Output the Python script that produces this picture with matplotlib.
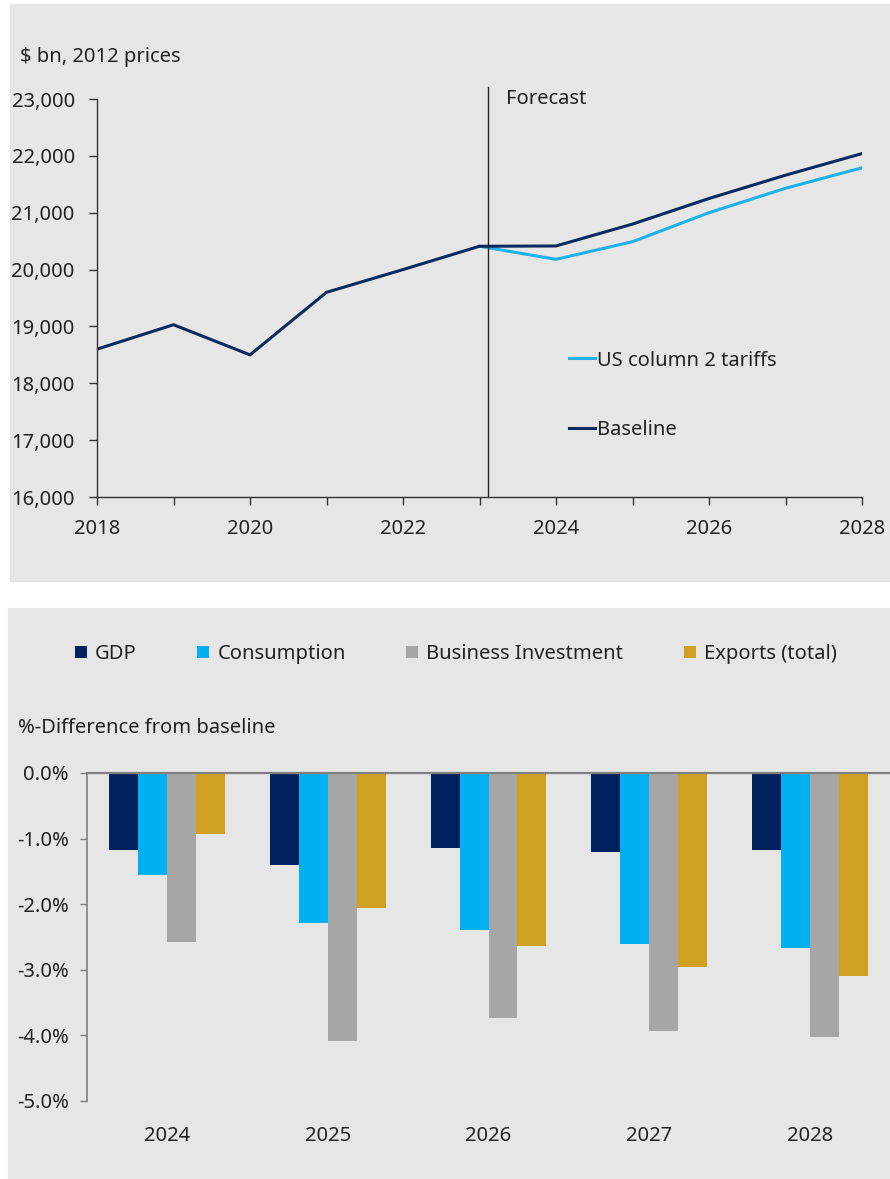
import numpy as np
import matplotlib.pyplot as plt
from matplotlib.patches import Rectangle, Patch
from matplotlib.ticker import FuncFormatter, MultipleLocator

plt.rcParams['font.family'] = ['Noto Sans', 'DejaVu Sans']
plt.rcParams['text.color'] = '#222222'

# Real GDP level, $ bn (2012 prices)
years = [2018, 2019, 2020, 2021, 2022, 2023, 2024, 2025, 2026, 2027, 2028]
baseline = [18600, 19030, 18500, 19600, 20000, 20410, 20415, 20800, 21250, 21660, 22040]
fc_years = [2023, 2024, 2025, 2026, 2027, 2028]
tariffs = [20410, 20180, 20490, 21000, 21430, 21790]
forecast_start = 2023.11

# Percentage difference from baseline
bar_years = ['2024', '2025', '2026', '2027', '2028']
gdp = [-1.18, -1.41, -1.15, -1.21, -1.17]
consumption = [-1.56, -2.29, -2.40, -2.61, -2.67]
business_inv = [-2.58, -4.09, -3.73, -3.94, -4.03]
exports = [-0.93, -2.06, -2.63, -2.95, -3.10]

bg = '#e6e6e6'
navy = '#0d2a5e'
sky = '#1fb1ec'
W, H = 890, 1179
fs = 14.5

fig = plt.figure(figsize=(W / 100, H / 100), dpi=100)

# grey panel backgrounds, kept behind the axes
fig.patches.append(Rectangle((10 / W, 1 - 581 / H), 880 / W, 577 / H,
                             transform=fig.transFigure, color=bg, zorder=-5))
fig.patches.append(Rectangle((8 / W, 0), 882 / W, 1 - 608 / H,
                             transform=fig.transFigure, color=bg, zorder=-5))

# ---- top: GDP level ----
ax1 = fig.add_axes([97 / W, 1 - 497 / H, 765 / W, 398 / H])
ax1.set_facecolor('none')
ax1.plot(fc_years, tariffs, color=sky, lw=2.2, label='US column 2 tariffs')
ax1.plot(years, baseline, color=navy, lw=2.2, label='Baseline')
ax1.set_xlim(2018, 2028)
ax1.set_ylim(16000, 23000)
ax1.xaxis.set_major_locator(MultipleLocator(2))
ax1.xaxis.set_minor_locator(MultipleLocator(1))
ax1.yaxis.set_major_locator(MultipleLocator(1000))
ax1.yaxis.set_major_formatter(FuncFormatter(lambda v, p: f'{v:,.0f}'))
for s in ['top', 'right']:
    ax1.spines[s].set_visible(False)
for s in ['left', 'bottom']:
    ax1.spines[s].set_color('#333333')
    ax1.spines[s].set_linewidth(1.0)
ax1.tick_params(axis='both', which='both', colors='#333333', labelcolor='#222222',
                labelsize=fs, length=6, width=1.0)
ax1.tick_params(axis='y', pad=10)
ax1.tick_params(axis='x', pad=10)
ax1.axvline(forecast_start, ymin=0, ymax=1.03, color='#222222', lw=1.0, clip_on=False)
ax1.text(forecast_start + 0.23, 23000 + 1, 'Forecast', fontsize=fs, va='center', ha='left')
fig.text(20 / W, 1 - 57 / H, '$ bn, 2012 prices', fontsize=fs, va='center', ha='left')

handles, labels = ax1.get_legend_handles_labels()
leg1 = ax1.legend(handles, labels, loc='upper left', bbox_to_anchor=(0.617, 0.368),
                  frameon=False, fontsize=fs, handlelength=1.3, handletextpad=0.1,
                  labelspacing=2.45, borderaxespad=0, borderpad=0)

# ---- bottom: % difference from baseline ----
ax2 = fig.add_axes([87 / W, 1 - 1101 / H, (W - 87) / W, 328 / H])
ax2.set_facecolor('none')
x = np.arange(len(bar_years))
bw = 0.18
series = [(gdp, '#00215e', 'GDP'),
          (consumption, '#00b0f0', 'Consumption'),
          (business_inv, '#a6a6a6', 'Business Investment'),
          (exports, '#d0a020', 'Exports (total)')]
for i, (vals, col, name) in enumerate(series):
    ax2.bar(x + (i - 1.5) * bw, vals, width=bw, color=col, label=name, zorder=2)
ax2.set_xlim(-0.5, 4.5)
ax2.set_ylim(-5, 0)
ax2.axhline(0, color='#808080', lw=1.6, zorder=3, clip_on=False)
ax2.set_xticks(x)
ax2.set_xticklabels(bar_years)
ax2.yaxis.set_major_locator(MultipleLocator(1))
ax2.yaxis.set_major_formatter(FuncFormatter(lambda v, p: f'{v:.1f}%'))
for s in ['top', 'right', 'bottom']:
    ax2.spines[s].set_visible(False)
ax2.spines['left'].set_color('#7f7f7f')
ax2.spines['left'].set_linewidth(1.2)
ax2.tick_params(axis='y', colors='#7f7f7f', labelcolor='#222222', labelsize=fs,
                length=5, width=1.0, pad=8)
ax2.tick_params(axis='x', length=0, labelsize=fs, labelcolor='#222222', pad=18)
fig.text(18 / W, 1 - 728 / H, '%-Difference from baseline', fontsize=fs,
         va='center', ha='left')

patches = [Patch(facecolor=c, edgecolor='none', label=n) for _, c, n in series]
fig.legend(handles=patches, loc='center left', bbox_to_anchor=(75 / W, 1 - 654 / H),
           ncol=4, frameon=False, fontsize=fs, handlelength=0.6, handleheight=0.6,
           handletextpad=0.4, columnspacing=3.0, borderpad=0, borderaxespad=0)

fig.savefig('out.png', dpi=100, facecolor='white')
